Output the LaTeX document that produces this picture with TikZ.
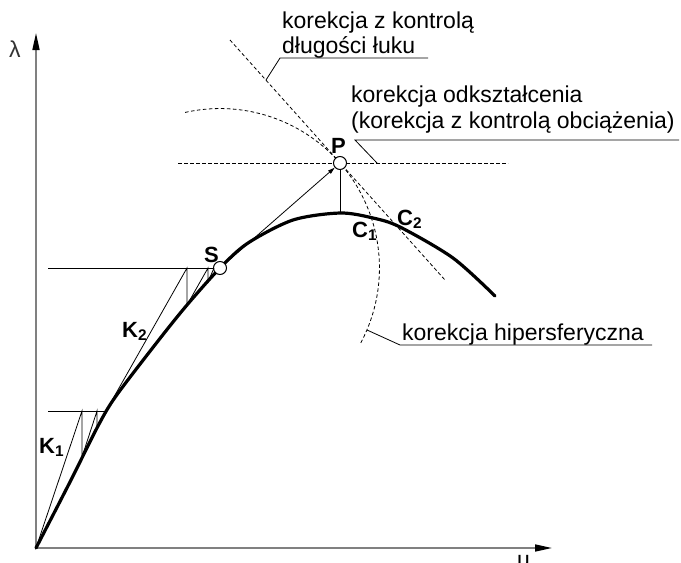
\documentclass[tikz,border=0pt]{standalone}
\usepackage{fontspec}
\setmainfont{Liberation Sans}
\usetikzlibrary{arrows.meta}
\begin{document}
\begin{tikzpicture}[x=1pt,y=-1pt,
  axisline/.style={line width=1.6pt, draw=black!50, -{Triangle[length=17pt,width=7pt,color=black]}},
  thinline/.style={line width=0.8pt},
  dashline/.style={line width=0.8pt, dash pattern=on 3.5pt off 2.5pt},
  mainline/.style={line width=3.2pt, line cap=round, line join=round},
  txt/.style={font=\fontsize{23}{26}\selectfont, inner sep=0pt, anchor=base west},
  ptlab/.style={font=\fontsize{22}{24}\selectfont\bfseries, inner sep=0pt, anchor=base west},
  ring/.style={circle, draw, line width=1pt, fill=white, minimum size=13pt, inner sep=0pt}]
\useasboundingbox (0,0) rectangle (681,563);

% axes
\coordinate (O) at (36,548);
\coordinate (Ytip) at (36,33);
\coordinate (Xtip) at (552,548);
\draw[axisline] (O) -- (Ytip);
\draw[axisline] (O) -- (Xtip);
\node[txt, text=black!80] (lam) at (9,57) {λ};
\node[txt] (ulab) at (517,567) {u};

% dashed constructions
\coordinate (Hl) at (178,163);
\coordinate (Hr) at (508,163);
\draw[dashline] (Hl) -- (Hr);
\coordinate (Dl) at (230,40);
\coordinate (Dr) at (445,280);
\draw[dashline] (Dl) -- (Dr);
\draw[dashline] plot[domain=-28:103, samples=80, smooth] ({220+159.45*cos(\x)},{268-159.45*sin(\x)});

% main curve
\draw[mainline] plot[smooth, tension=0.5] coordinates {(36,548) (71,480) (98,426) (116,396) (158,341) (187,305) (220,268) (248,243) (293,220) (340,213) (373,218) (400,227) (453,258) (495,296)};

% K1 iteration
\coordinate (K1h) at (48,411);
\coordinate (K1e) at (106,411);
\coordinate (a1) at (82,411);
\coordinate (a2) at (82,457);
\coordinate (a3) at (97,411);
\coordinate (a4) at (97,428);
\draw[thinline] (K1h) -- (K1e);
\draw[thinline] (O) -- (a1) -- (a2) -- (a3) -- (a4) -- (K1e);

% K2 iteration
\node[ring] (S) at (220,268) {};
\coordinate (K2h) at (48,268);
\coordinate (b1) at (187,268);
\coordinate (b2) at (187,305);
\coordinate (b3) at (208,268);
\coordinate (b4) at (208,282);
\coordinate (b5) at (214,268);
\draw[thinline] (K2h) -- (S);
\draw[thinline] (K1e) -- (b1) -- (b2) -- (b3) -- (b4) -- (b5);

% predictor to P
\node[ring] (P) at (340,163) {};
\draw[thinline, -{Triangle[length=7pt,width=4pt]}] (S) -- (P);
\coordinate (Pfoot) at (340,213);
\draw[thinline] (P) -- (Pfoot);

% labels on the plot
\node[ptlab] (Plab) at (331,153) {P};
\node[ptlab] (Slab) at (204,262) {S};
\node[ptlab] (C1) at (352,237) {C\textsubscript{1}};
\node[ptlab] (C2) at (397,225) {C\textsubscript{2}};
\node[ptlab] (K1) at (39,453) {K\textsubscript{1}};
\node[ptlab] (K2) at (122,337) {K\textsubscript{2}};

% annotation: arc length control
\node[txt] (t1a) at (282,28) {korekcja z kontrolą};
\node[txt] (t1b) at (282,53) {długości łuku};
\coordinate (u1l) at (280,58);
\coordinate (u1r) at (428,58);
\coordinate (u1p) at (266,80);
\draw[thinline] (u1r) -- (u1l) -- (u1p);

% annotation: load control
\node[txt] (t2a) at (351,102) {korekcja odkształcenia};
\node[txt] (t2b) at (351,128) {(korekcja z kontrolą obciążenia)};
\coordinate (u2l) at (355,140);
\coordinate (u2r) at (679,140);
\coordinate (u2p) at (377,163);
\draw[thinline] (u2r) -- (u2l) -- (u2p);

% annotation: hypersphere
\node[txt] (t3) at (402,340) {korekcja hipersferyczna};
\coordinate (u3l) at (400,345);
\coordinate (u3r) at (652,345);
\coordinate (u3p) at (367,330);
\draw[thinline] (u3r) -- (u3l) -- (u3p);
\end{tikzpicture}
\end{document}
